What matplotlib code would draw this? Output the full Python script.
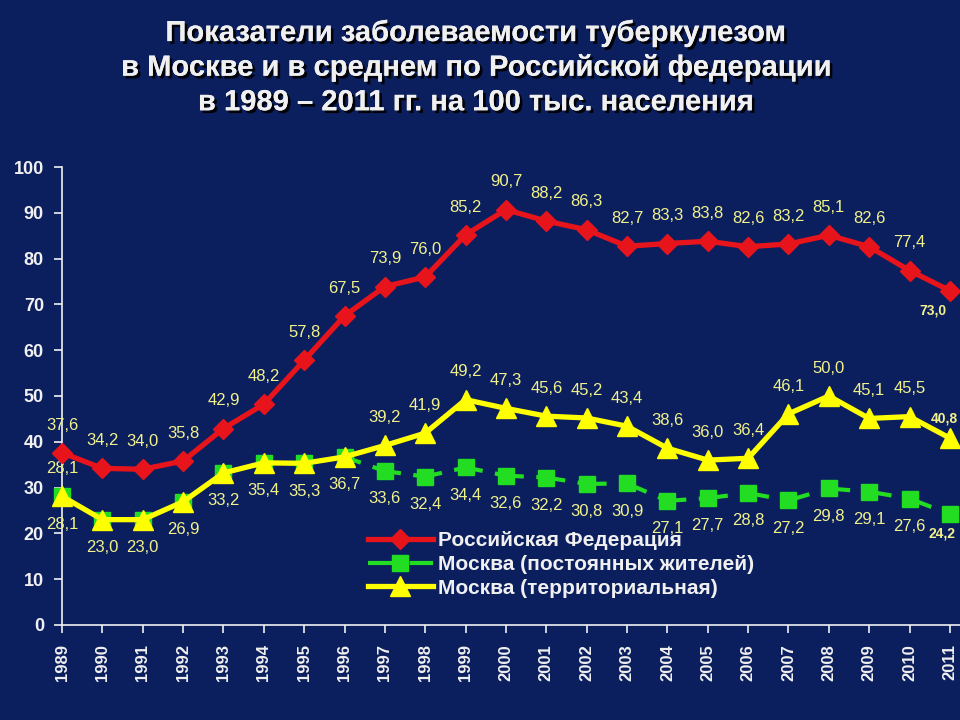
import matplotlib
matplotlib.use("Agg")
import matplotlib.pyplot as plt
import matplotlib.patheffects as pe

plt.rcParams['font.family'] = ['Liberation Sans', 'DejaVu Sans']

# данные
years = list(range(1989, 2012))
rf = [37.6, 34.2, 34.0, 35.8, 42.9, 48.2, 57.8, 67.5, 73.9, 76.0, 85.2, 90.7,
      88.2, 86.3, 82.7, 83.3, 83.8, 82.6, 83.2, 85.1, 82.6, 77.4, 73.0]
msk_perm = [28.1, 23.0, 23.0, 26.9, 33.2, 35.4, 35.3, 36.7, 33.6, 32.4, 34.4, 32.6,
            32.2, 30.8, 30.9, 27.1, 27.7, 28.8, 27.2, 29.8, 29.1, 27.6, 24.2]
msk_terr = [28.1, 23.0, 23.0, 26.9, 33.2, 35.4, 35.3, 36.7, 39.2, 41.9, 49.2, 47.3,
            45.6, 45.2, 43.4, 38.6, 36.0, 36.4, 46.1, 50.0, 45.1, 45.5, 40.8]
series_names = ["Российская Федерация", "Москва (постоянных жителей)",
                "Москва (территориальная)"]
title = ("Показатели заболеваемости туберкулезом\n"
         "в Москве и в среднем по Российской федерации\n"
         "в 1989 – 2011 гг. на 100 тыс. населения")

BG = "#0b1f5e"
RED = "#e8141c"
GREEN = "#22dd22"
YELLOW = "#ffff00"
LBL = "#f2f28c"
WHITE = "#f0f0f0"

fig = plt.figure(figsize=(9.6, 7.2), dpi=100, facecolor=BG)
ax = fig.add_axes([0.0646, 0.132, 0.9354, 0.636])
ax.set_facecolor(BG)

ax.plot(years, msk_perm, color=GREEN, lw=3.0, ls=(0, (7, 3)), marker="s",
        ms=11.5, mec=GREEN, mfc=GREEN, label=series_names[1], clip_on=False, zorder=3)
ax.plot(years, msk_terr, color=YELLOW, lw=3.8, marker="^", ms=14,
        mec=YELLOW, mfc=YELLOW, label=series_names[2], clip_on=False, zorder=4)
ax.plot(years, rf, color=RED, lw=3.8, marker="D", ms=10,
        mec=RED, mfc=RED, label=series_names[0], clip_on=False, zorder=5)

def fmt(v):
    return f"{v:.1f}".replace(".", ",")

last = len(years) - 1
for i, (x, r, g, y) in enumerate(zip(years, rf, msk_perm, msk_terr)):
    if i == last:
        ax.annotate(fmt(r), (x, r), xytext=(-12, -14), textcoords="offset points",
                    ha="center", va="center", fontsize=10, fontweight="bold", color=LBL)
        ax.annotate(fmt(y), (x, y), xytext=(-4, 14), textcoords="offset points",
                    ha="center", va="center", fontsize=10, fontweight="bold", color=LBL)
        ax.annotate(fmt(g), (x, g), xytext=(-6, -14), textcoords="offset points",
                    ha="center", va="center", fontsize=10, fontweight="bold", color=LBL)
        continue
    ax.annotate(fmt(r), (x, r), xytext=(0, 20), textcoords="offset points",
                ha="center", va="center", fontsize=12, color=LBL)
    if i == 0 or i >= 8:
        ax.annotate(fmt(y), (x, y), xytext=(0, 20), textcoords="offset points",
                    ha="center", va="center", fontsize=12, color=LBL)
    ax.annotate(fmt(g), (x, g), xytext=(0, -20), textcoords="offset points",
                ha="center", va="center", fontsize=12, color=LBL)

ax.set_xlim(1989, 2011.25)
ax.set_ylim(0, 100)
ax.set_yticks(range(0, 101, 10))
ax.set_xticks(years)
ax.set_xticklabels([str(y) for y in years], rotation=90, fontsize=12,
                   fontweight="bold", color=WHITE)
for lbl in ax.get_yticklabels():
    lbl.set_fontsize(13)
    lbl.set_fontweight("bold")
    lbl.set_color(WHITE)
ax.tick_params(axis="both", colors=WHITE, length=6, width=1.2)
ax.tick_params(axis="x", pad=8)
ax.tick_params(axis="y", pad=7)
for side in ("top", "right"):
    ax.spines[side].set_visible(False)
for side in ("left", "bottom"):
    ax.spines[side].set_color(WHITE)
    ax.spines[side].set_linewidth(1.2)

handles, labels = ax.get_legend_handles_labels()
order = [2, 0, 1]
leg = ax.legend([handles[i] for i in order], [labels[i] for i in order],
                loc="upper left", bbox_to_anchor=(0.364, 0.288),
                bbox_transform=fig.transFigure, frameon=False,
                handlelength=3.1, handletextpad=0.25, labelspacing=0.22,
                prop={"size": 15, "weight": "bold"})
for t in leg.get_texts():
    t.set_color(WHITE)

fig.text(0.495, 0.906, title, ha="center", va="center", fontsize=21,
         fontweight="bold", color=WHITE, linespacing=1.3,
         path_effects=[pe.withSimplePatchShadow(offset=(2, -2), shadow_rgbFace="black", alpha=0.9),
                       pe.Normal()])

fig.savefig("out.png", dpi=100, facecolor=BG)
